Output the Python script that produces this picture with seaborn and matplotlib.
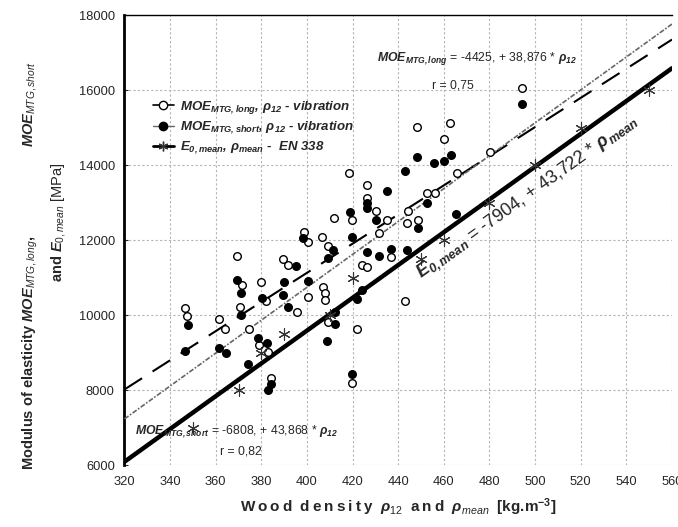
import numpy as np
import matplotlib
matplotlib.use("Agg")
import matplotlib.pyplot as plt
from matplotlib.lines import Line2D
import seaborn as sns

# ---------------- data ----------------
# MOE_MTG,long vs rho12 (open circles)
rho_long = [346.5, 347.4, 361.5, 364, 369.3, 370.7, 371.5, 374.6, 379, 379.9,
            382, 383, 384.3, 389.5, 391.7, 395.7, 398.5, 400.5, 400.5, 406.6,
            407, 407.7, 407.7, 409.3, 409.3, 411.9, 418.4, 419.8, 419.8, 422,
            424.2, 426.4, 426.4, 426.4, 430.3, 431.7, 435.2, 437, 443, 443.9,
            444.4, 448.3, 448.7, 452.6, 456.1, 460.1, 462.8, 465.8, 480.3, 494.3]
moe_long = [10187, 9973, 9893, 9627, 11573, 10213, 10800, 9627, 9200, 10880,
            10373, 9013, 8320, 11493, 11333, 10080, 12213, 11947, 10480, 12080,
            10747, 10587, 10400, 11840, 9813, 12587, 13787, 12533, 8187, 9627,
            11333, 11280, 13467, 13120, 12773, 12187, 12533, 11547, 10373, 12453,
            12773, 15013, 12533, 13253, 13253, 14693, 15120, 13787, 14347, 16053]

# MOE_MTG,short vs rho12 (filled circles)
rho_short = [346.5, 347.9, 361.5, 364.5, 369.3, 371, 371, 374.2, 378.6, 380.3,
             382.5, 383, 384.3, 389.5, 390, 391.7, 395.2, 398.3, 400.5, 408.7,
             409.3, 411.5, 412.3, 412.5, 418.9, 419.8, 419.8, 422, 424.2, 426.4,
             426.4, 426.4, 430.3, 431.7, 435.2, 437, 443, 443.9, 448.2, 448.7,
             452.6, 455.8, 460.2, 463.2, 465.4, 494.3]
moe_short = [9040, 9733, 9120, 8987, 10933, 10587, 10000, 8693, 9387, 10453,
             9253, 8000, 8160, 10533, 10880, 10213, 11307, 12053, 10907, 9307,
             11520, 11733, 10080, 9760, 12747, 12080, 8427, 10427, 10667, 11680,
             12987, 12853, 12533, 11573, 13307, 11760, 13840, 11733, 14213, 12320,
             12987, 14053, 14107, 14267, 12693, 15627]

# E0,mean vs rho_mean, EN 338 classes (asterisks)
rho_mean = [350, 370, 380, 390, 410, 420, 450, 460, 480, 500, 520, 550]
e0_mean = [7000, 8000, 9000, 9500, 10000, 11000, 11500, 12000, 13000, 14000, 15000, 16000]

# regression coefficients (intercept, slope) printed on the chart
fit_long = (-4425, 38.876)
fit_short = (-6808, 43.868)
fit_e0 = (-7904, 43.722)
x_range = np.array([320, 560])

x_ticks = np.arange(320, 561, 20)
y_ticks = np.arange(6000, 18001, 2000)

# ---------------- style ----------------
sns.set_style("white")
plt.rcParams["font.family"] = ["Liberation Sans", "DejaVu Sans"]
plt.rcParams["mathtext.fontset"] = "custom"
plt.rcParams["mathtext.rm"] = "Liberation Sans"
plt.rcParams["mathtext.it"] = "Liberation Sans:italic"
plt.rcParams["mathtext.bf"] = "Liberation Sans:bold"
plt.rcParams["mathtext.bfit"] = "Liberation Sans:bold:italic"

fig = plt.figure(figsize=(6.78, 5.27), dpi=100)
ax = fig.add_axes([0.1836, 0.1176, 0.8075, 0.8539])

# regression lines
sns.lineplot(x=x_range, y=fit_long[0] + fit_long[1] * x_range, ax=ax,
             color="black", linewidth=1.5, zorder=3)
ax.lines[-1].set_dashes((10, 6))
sns.lineplot(x=x_range, y=fit_short[0] + fit_short[1] * x_range, ax=ax,
             color="#666666", linewidth=1.2, zorder=3)
ax.lines[-1].set_dashes((3, 1, 1, 1))
sns.lineplot(x=x_range, y=fit_e0[0] + fit_e0[1] * x_range, ax=ax,
             color="black", linewidth=3.2, zorder=3)

# points
sns.scatterplot(x=rho_long, y=moe_long, ax=ax, marker="o", s=30,
                facecolor="white", edgecolor="black", linewidth=1.0, zorder=4)
sns.scatterplot(x=rho_short, y=moe_short, ax=ax, marker="o", s=30,
                color="black", edgecolor="black", linewidth=1.0, zorder=4)
ax.scatter(rho_mean, e0_mean, marker=(6, 2, 0), s=70, color="#333333",
           linewidth=0.8, zorder=5)

ax.set_xlim(320, 560)
ax.set_ylim(6000, 18000)
ax.set_xticks(x_ticks)
ax.set_yticks(y_ticks)
ax.grid(True, linestyle=(0, (2, 2)), color="#b5b5b5", linewidth=0.8)
ax.set_axisbelow(True)

for side in ["right", "bottom"]:
    ax.spines[side].set_visible(False)
ax.spines["top"].set_linewidth(1.0)
ax.spines["left"].set_linewidth(2.0)
ax.spines["top"].set_color("black")
ax.spines["left"].set_color("black")
ax.tick_params(axis="x", length=0, pad=8, labelsize=9.3)
ax.tick_params(axis="y", length=3, direction="in", pad=7, labelsize=9.3, left=True)

# axis labels (letter-spaced like the original)
sp = "\u2009"
wood = sp.join("Wood") + "  " + sp.join("density")
and_ = sp.join("and")
ax.set_xlabel(wood + r"  $\mathbfit{\rho}_{\mathit{12}}$  " + and_
              + r"  $\mathbfit{\rho}_{\mathit{mean}}$  [kg.m$\mathbf{^{-3}}$]",
              fontsize=11, fontweight="bold", labelpad=6)
ax.set_ylabel("")
fig.text(30 / 678, 1 - 470 / 527,
         r"Modulus of elasticity $\mathbfit{MOE}_{\mathit{MTG,long}}$,",
         rotation=90, ha="center", va="bottom", fontsize=10.5, fontweight="bold")
fig.text(30 / 678, 1 - 147 / 527, r"$\mathbfit{MOE}_{\mathit{MTG,short}}$",
         rotation=90, ha="center", va="bottom", fontsize=10.5, fontweight="bold")
fig.text(58 / 678, 1 - 222 / 527,
         r"and $\mathbfit{E}_{\mathit{0,mean}}$ $\mathrm{[MPa]}$",
         rotation=90, ha="center", va="center", fontsize=10.5, fontweight="bold")

# equations
ax.text(430.7, 16850,
        r"$\mathbfit{MOE}_{\mathbfit{MTG,long}}$ = -4425, + 38,876 * $\mathbfit{\rho}_{\mathbfit{12}}$",
        ha="left", va="center", fontsize=8.8, zorder=6)
ax.text(455, 16130, "r = 0,75", ha="left", va="center", fontsize=8.8, zorder=6)
ax.text(324.6, 6880,
        r"$\mathbfit{MOE}_{\mathbfit{MTG,short}}$ = -6808, + 43,868 * $\mathbfit{\rho}_{\mathbfit{12}}$",
        ha="left", va="center", fontsize=8.8, zorder=6)
ax.text(362, 6350, "r = 0,82", ha="left", va="center", fontsize=8.8, zorder=6)
ax.text(446, 11300,
        r"$\mathbfit{E}_{\mathbfit{0,mean}}$ = -7904, + 43,722 * $\mathbfit{\rho}_{\mathbfit{mean}}$",
        rotation=np.degrees(np.arctan(fit_e0[1])), transform_rotates_text=True,
        rotation_mode="anchor", ha="left", va="top", fontsize=13, zorder=6)

# legend
handles = [
    Line2D([], [], color="black", linewidth=1.2, marker="o", markersize=6,
           markerfacecolor="white", markeredgecolor="black"),
    Line2D([], [], color="#666666", linewidth=1.0, marker="o", markersize=6,
           markerfacecolor="black", markeredgecolor="black"),
    Line2D([], [], color="black", linewidth=2.0, marker=(6, 2, 0), markersize=7,
           markeredgecolor="#333333"),
]
labels = [
    r"$\mathbfit{MOE}_{\mathbfit{MTG,long}}$, $\mathbfit{\rho}_{\mathbfit{12}}$ - vibration",
    r"$\mathbfit{MOE}_{\mathbfit{MTG,short}}$, $\mathbfit{\rho}_{\mathbfit{12}}$ - vibration",
    r"$\mathbfit{E}_{\mathbfit{0,mean}}$, $\mathbfit{\rho}_{\mathbfit{mean}}$ -  EN 338",
]
ax.legend(handles, labels, loc="upper left", bbox_to_anchor=(0.03, 0.84),
          frameon=False, handlelength=1.6, handletextpad=0.5, labelspacing=0.25,
          prop=dict(size=9.5, weight="bold", style="italic"))

plt.savefig("out.png", dpi=100)
